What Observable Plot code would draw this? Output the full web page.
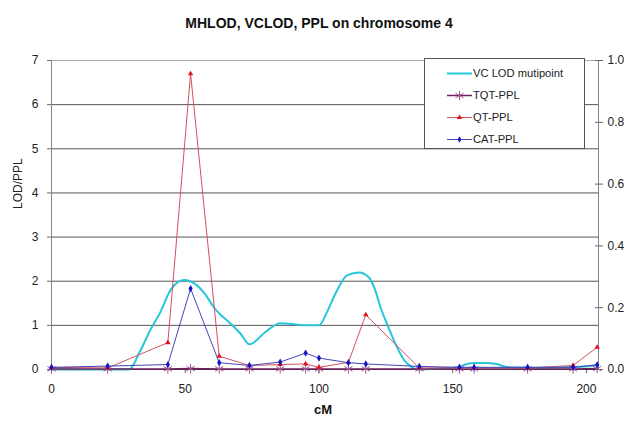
<!DOCTYPE html>
<html><head><meta charset="utf-8">
<script src="https://cdn.jsdelivr.net/npm/d3@7"></script>
<script src="https://cdn.jsdelivr.net/npm/@observablehq/plot@0.6"></script>
<style>
html,body{margin:0;padding:0;background:#fff;}
#wrap{position:relative;width:631px;height:421px;font-family:"Liberation Sans",Arial,sans-serif;}
#legend{position:absolute;left:424px;top:58px;width:161px;height:91px;border:1px solid #555;background:#fff;box-sizing:border-box;}
#legend svg{display:block;}
</style></head><body><div id="wrap"></div>
<script>
const title = "MHLOD, VCLOD, PPL on chromosome 4";
const xLabel = "cM";
const yLabel = "LOD/PPL";
const xTicks = [0, 50, 100, 150, 200];
const leftTicks = [0, 1, 2, 3, 4, 5, 6, 7];
const rightTicks = [0, 0.2, 0.4, 0.6, 0.8, 1.0];
const seriesNames = ["VC LOD mutipoint", "TQT-PPL", "QT-PPL", "CAT-PPL"];

// marker positions (cM) shared by the PPL series
const markerCM = [0, 21, 43.5, 52, 62.7, 74, 85.5, 95, 100, 111, 117.5, 137.5, 152.5, 158, 178, 195, 204];
const tqtPPL = [0.002, 0.002, 0.002, 0.003, 0.002, 0.002, 0.002, 0.002, 0.002, 0.002, 0.002, 0.002, 0.002, 0.002, 0.002, 0.002, 0.003];
const qtPPL  = [0.007, 0.005, 0.087, 0.957, 0.043, 0.013, 0.016, 0.018, 0.007, 0.023, 0.177, 0.005, 0.006, 0.006, 0.005, 0.013, 0.072];
const catPPL = [0.007, 0.011, 0.016, 0.262, 0.022, 0.013, 0.024, 0.053, 0.037, 0.022, 0.018, 0.010, 0.007, 0.007, 0.007, 0.007, 0.015];

// VC LOD multipoint curve
const vcCM  = [0, 10, 20, 29, 33, 37, 40.7, 44.5, 49.5, 54.5, 57.5, 60.7, 63, 65.7, 70.7, 74, 80, 85.5, 90, 95, 100, 103, 106, 110.5, 115, 118.6, 121, 123, 126, 129.2, 132, 134.8, 137, 145, 152, 155, 158, 162, 166, 171, 180, 190, 198, 204];
const vcLOD = [0, 0, 0, 0, 0.4, 0.9, 1.3, 1.8, 2.03, 1.9, 1.7, 1.41, 1.25, 1.11, 0.81, 0.57, 0.85, 1.05, 1.03, 1.0, 1.0, 1.3, 1.7, 2.13, 2.2, 2.09, 1.8, 1.41, 0.95, 0.5, 0.2, 0.05, 0, 0.02, 0.05, 0.12, 0.15, 0.15, 0.13, 0.05, 0.04, 0.05, 0.06, 0.1];

const LOD_MAX = 7, PPL_MAX = 1;
const k = LOD_MAX / PPL_MAX; // PPL (right axis) -> LOD (left axis) units
const X_MAX = 204.5;

const colors = {
  vc: "#27c6da",
  tqtLine: "#6e1f5e", tqtDot: "#a05592",
  qtLine: "#d4505e", qtDot: "#e3101c",
  catLine: "#4444bb", catDot: "#1414c4"
};

const vc = vcCM.map((x, i) => ({x, y: vcLOD[i]}));
const mk = arr => markerCM.map((x, i) => ({x, y: arr[i] * k}));
const tqt = mk(tqtPPL), qt = mk(qtPPL), cat = mk(catPPL);

const font = '"Liberation Sans", Arial, sans-serif';

const chart = Plot.plot({
  width: 631, height: 421,
  marginLeft: 51, marginRight: 33, marginTop: 60, marginBottom: 52,
  x: {domain: [0, X_MAX]},
  y: {domain: [0, LOD_MAX]},
  style: {fontFamily: font, fontSize: "12px", color: "#222", background: "white", overflow: "visible"},
  marks: [
    Plot.ruleY(leftTicks.filter(d => d > 0 && d < LOD_MAX), {stroke: "#555", strokeOpacity: 1}),
    Plot.ruleY([LOD_MAX], {stroke: "#aaa"}),
    Plot.ruleX([0], {stroke: "#888"}),
    Plot.ruleX([X_MAX], {stroke: "#888"}),
    Plot.axisX({ticks: xTicks, tickSize: 4, tickPadding: 11, label: null, tickFormat: d => d, stroke: "#666"}),
    Plot.axisY({ticks: leftTicks, tickSize: 4, tickPadding: 9, label: null, tickFormat: d => d, stroke: "#666"}),
    Plot.axisY({anchor: "right", ticks: rightTicks.map(v => v * k), tickFormat: d => (d / k).toFixed(1), tickSize: 8, dx: -4, tickPadding: 5, label: null, stroke: "#666"}),
    Plot.ruleY([0], {stroke: "#333"}),
    Plot.line(vc, {x: "x", y: "y", stroke: colors.vc, strokeWidth: 2, curve: "monotone-x"}),
    Plot.line(tqt, {x: "x", y: "y", stroke: colors.tqtLine, strokeWidth: 1.5}),
    Plot.dot(tqt, {x: "x", y: "y", symbol: "asterisk", r: 4.5, stroke: colors.tqtDot, strokeWidth: 1}),
    Plot.line(qt, {x: "x", y: "y", stroke: colors.qtLine, strokeWidth: 1}),
    Plot.dot(qt, {x: "x", y: "y", symbol: "triangle", r: 2, fill: colors.qtDot, stroke: "none"}),
    Plot.line(cat, {x: "x", y: "y", stroke: colors.catLine, strokeWidth: 1}),
    Plot.dot(cat, {x: "x", y: "y", symbol: "diamond", r: 2.2, fill: colors.catDot, stroke: "none"}),
    Plot.text([title], {frameAnchor: "top", dy: -42, dx: -6, fontWeight: "bold", fontSize: 14, fill: "#111"}),
    Plot.text([xLabel], {frameAnchor: "bottom", dy: 44, dx: -2, fontWeight: "bold", fontSize: 13, fill: "#111"}),
    Plot.text([yLabel], {frameAnchor: "left", dx: -33, dy: -6, rotate: -90, fontSize: 12, fill: "#222"})
  ]
});

const wrap = document.getElementById("wrap");
wrap.appendChild(chart);

// legend
const legend = document.createElement("div");
legend.id = "legend";
wrap.appendChild(legend);
const lsvg = d3.select(legend).append("svg").attr("width", 159).attr("height", 89);
const rowY = [14, 36, 58, 80];
const legendSpec = [
  {line: colors.vc, w: 2, dot: null},
  {line: colors.tqtLine, w: 1.5, dot: "asterisk", dc: colors.tqtDot},
  {line: colors.qtLine, w: 1, dot: "triangle", dc: colors.qtDot},
  {line: colors.catLine, w: 1, dot: "diamond", dc: colors.catDot}
];
const symMap = {asterisk: d3.symbolAsterisk, triangle: d3.symbolTriangle, diamond: d3.symbolDiamond};
legendSpec.forEach((s, i) => {
  const g = lsvg.append("g").attr("transform", `translate(0,${rowY[i]})`);
  g.append("line").attr("x1", 22).attr("x2", 47).attr("y1", 0.5).attr("y2", 0.5).attr("stroke", s.line).attr("stroke-width", s.w);
  if (s.dot) {
    const size = s.dot === "asterisk" ? 60 : 12;
    g.append("path").attr("transform", "translate(34.5,0.5)")
      .attr("d", d3.symbol(symMap[s.dot], size)())
      .attr("fill", s.dot === "asterisk" ? "none" : s.dc)
      .attr("stroke", s.dot === "asterisk" ? s.dc : "none");
  }
  g.append("text").attr("x", 48).attr("y", 0).attr("dy", "0.35em")
    .attr("font-family", font).attr("font-size", 11.2).attr("fill", "#222").text(seriesNames[i]);
});
</script>
</body></html>
